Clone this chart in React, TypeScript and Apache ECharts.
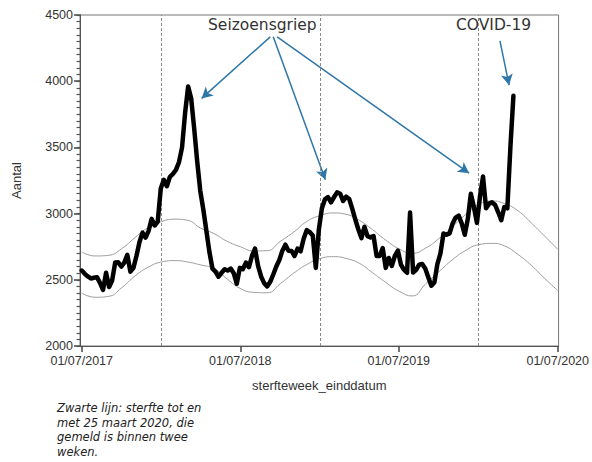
import React, { useEffect, useRef } from "react";
import * as echarts from "echarts";

// Weekly death counts (week end dates from 2017-07-01, one value per week)
const firstWeekEnd = [2017, 6, 1];
const weeklyDeaths = [
  2570, 2545, 2525, 2510, 2515, 2520, 2477, 2424, 2553, 2445,
  2495, 2630, 2632, 2600, 2630, 2689, 2561, 2590, 2680, 2785,
  2856, 2818, 2870, 2960, 2910, 2940, 3190, 3255, 3207, 3278,
  3300, 3330, 3390, 3500, 3760, 3960, 3870, 3640, 3390, 3170,
  3030, 2870, 2710, 2585, 2562, 2523, 2553, 2580, 2570, 2585,
  2550, 2470, 2590, 2580, 2630, 2595, 2680, 2735, 2605, 2525,
  2475, 2450, 2485, 2540, 2600, 2650, 2720, 2765, 2720, 2718,
  2680, 2735, 2715, 2810, 2875, 2860, 2835, 2590, 2880, 3040,
  3108, 3125, 3085, 3125, 3160, 3150, 3095, 3128, 3110, 3035,
  2955, 2880, 2815, 2900, 2830, 2820, 2830, 2680, 2680, 2740,
  2590, 2665, 2605, 2680, 2720, 2615, 2576, 2553, 3008, 2555,
  2575, 2615, 2620, 2585, 2520, 2455, 2480, 2620, 2700, 2850,
  2840, 2850, 2925, 2970, 2985, 2925, 2840, 2960, 3150, 3050,
  2930, 3130, 3280, 3040, 3075, 3085, 3065, 3010, 2950, 3050,
  3040, 3500, 3890,
];

// Expected-mortality band (monthly readings)
const bandDates = [
  "2017-07-01", "2017-08-01", "2017-09-01", "2017-10-01", "2017-11-01", "2017-12-01",
  "2018-01-01", "2018-02-01", "2018-03-01", "2018-04-01", "2018-05-01", "2018-06-01",
  "2018-07-01", "2018-08-01", "2018-09-01", "2018-10-01", "2018-11-01", "2018-12-01",
  "2019-01-01", "2019-02-01", "2019-03-01", "2019-04-01", "2019-05-01", "2019-06-01",
  "2019-07-01", "2019-08-01", "2019-09-01", "2019-10-01", "2019-11-01", "2019-12-01",
  "2020-01-01", "2020-02-01", "2020-03-01", "2020-04-01", "2020-05-01", "2020-06-01",
  "2020-07-01",
];
const upperBand = [
  2710, 2680, 2685, 2735, 2820, 2895,
  2940, 2958, 2950, 2890, 2850, 2790,
  2750, 2718, 2720, 2790, 2860, 2940,
  2985, 3005, 2995, 2950, 2880, 2800,
  2735, 2700, 2740, 2810, 2900, 2990,
  3070, 3095, 3075, 3020, 2930, 2830,
  2730,
];
const lowerBand = [
  2400, 2368, 2375, 2440, 2530, 2595,
  2635, 2645, 2635, 2612, 2585, 2505,
  2435, 2405, 2402, 2470, 2550, 2615,
  2660, 2675, 2662, 2625, 2555, 2480,
  2415, 2378, 2470, 2560, 2650, 2720,
  2765, 2775, 2755, 2690, 2610, 2510,
  2420,
];

const xTickDates = ["2017-07-01", "2018-07-01", "2019-07-01", "2020-07-01"];
const xRange = ["2017-06-27", "2020-07-03"];
const yTicks = [2000, 2500, 3000, 3500, 4000, 4500];
const yMinorStep = 50;
const seasonStarts = ["2018-01-01", "2019-01-01", "2020-01-01"];

// Annotation arrows: [from date, from value, to date, to value]
const fluArrows: [string, number, string, number][] = [
  ["2018-09-08", 4335, "2018-04-03", 3870],
  ["2018-09-15", 4335, "2019-01-13", 3255],
  ["2018-09-24", 4335, "2019-12-10", 3305],
];
const covidArrows: [string, number, string, number][] = [
  ["2020-02-19", 4305, "2020-03-11", 3970],
];

const ts = (s: string) => {
  const [y, m, d] = s.split("-").map(Number);
  return Date.UTC(y, m - 1, d);
};
const pad = (n: number) => (n < 10 ? "0" + n : "" + n);

export default function App() {
  const ref = useRef<HTMLDivElement>(null);

  useEffect(() => {
    if (!ref.current) return;
    const chart = echarts.init(ref.current, null, { renderer: "svg" });

    const start = Date.UTC(firstWeekEnd[0], firstWeekEnd[1], firstWeekEnd[2]);
    const deathData = weeklyDeaths.map((v, i) => [start + i * 7 * 86400000, v]);
    const upperData = bandDates.map((d, i) => [ts(d), upperBand[i]]);
    const lowerData = bandDates.map((d, i) => [ts(d), lowerBand[i]]);
    const tickTs = xTickDates.map(ts);

    const arrowLines = (arr: [string, number, string, number][]) =>
      arr.map(([d1, v1, d2, v2]) => [
        { coord: [ts(d1), v1] },
        { coord: [ts(d2), v2] },
      ]);

    const axisFont = "'Liberation Sans', Arial, sans-serif";
    const yMin = yTicks[0];
    const yMax = yTicks[yTicks.length - 1];

    chart.setOption({
      animation: false,
      backgroundColor: "#fff",
      grid: {
        left: 80,
        right: 29,
        top: 15,
        bottom: 116,
        show: true,
        borderColor: "#777",
        borderWidth: 1,
        backgroundColor: "transparent",
      },
      xAxis: {
        type: "value",
        min: ts(xRange[0]),
        max: ts(xRange[1]),
        scale: true,
        name: "sterfteweek_einddatum",
        nameLocation: "middle",
        nameGap: 33,
        nameTextStyle: { fontSize: 13, color: "#333", fontFamily: axisFont },
        axisLine: { show: true, lineStyle: { color: "#555", width: 1 } },
        axisTick: {
          show: true,
          inside: false,
          length: 6,
          customValues: tickTs,
          lineStyle: { color: "#444", width: 1.5 },
        },
        axisLabel: {
          customValues: tickTs,
          fontSize: 12.5,
          color: "#333",
          fontFamily: axisFont,
          margin: 8,
          hideOverlap: false,
          showMinLabel: true,
          showMaxLabel: true,
          formatter: (v: number) => {
            const d = new Date(v);
            return pad(d.getUTCDate()) + "/" + pad(d.getUTCMonth() + 1) + "/" + d.getUTCFullYear();
          },
        },
        splitLine: { show: false },
      },
      yAxis: [
        {
          type: "value",
          min: yMin,
          max: yMax,
          interval: yTicks[1] - yTicks[0],
          name: "Aantal",
          nameLocation: "middle",
          nameGap: 57,
          nameRotate: 90,
          nameTextStyle: { fontSize: 13, color: "#333", fontFamily: axisFont },
          axisLine: { show: true, lineStyle: { color: "#555", width: 1 } },
          axisTick: { show: true, inside: false, length: 6, lineStyle: { color: "#444", width: 1.5 } },
          axisLabel: {
            fontSize: 12.5,
            color: "#333",
            fontFamily: axisFont,
            margin: 7,
            formatter: (v: number) => String(v),
          },
          splitLine: { show: false },
        },
        {
          type: "value",
          position: "left",
          offset: 0,
          min: yMin,
          max: yMax,
          interval: yMinorStep,
          axisLine: { show: true, lineStyle: { color: "#555", width: 1 } },
          axisTick: { show: true, inside: false, length: 3.5, lineStyle: { color: "#555", width: 1.2 } },
          axisLabel: { show: false },
          splitLine: { show: false },
        },
      ],
      series: [
        {
          name: "Bovengrens",
          type: "line",
          data: upperData,
          smooth: true,
          showSymbol: false,
          silent: true,
          lineStyle: { color: "#9c9c9c", width: 1 },
          z: 2,
          markLine: {
            silent: true,
            symbol: ["none", "arrow"],
            symbolSize: [9, 11],
            label: { show: false },
            lineStyle: { color: "#2e77a8", width: 1.5, type: "solid" },
            data: [...arrowLines(fluArrows), ...arrowLines(covidArrows)],
          },
        },
        {
          name: "Ondergrens",
          type: "line",
          data: lowerData,
          smooth: true,
          showSymbol: false,
          silent: true,
          lineStyle: { color: "#9c9c9c", width: 1 },
          z: 2,
          markLine: {
            silent: true,
            symbol: ["none", "none"],
            label: { show: false },
            lineStyle: { color: "#8a8a8a", width: 1, type: [3, 2] },
            data: seasonStarts.map((d) => ({ xAxis: ts(d) })),
          },
        },
        {
          name: "Sterfte",
          type: "line",
          data: deathData,
          showSymbol: false,
          silent: true,
          lineStyle: { color: "#000", width: 4.5, join: "round", cap: "round" },
          z: 5,
        },
      ],
      graphic: [
        {
          type: "text",
          left: 208,
          top: 17,
          silent: true,
          style: {
            text: "Seizoensgriep",
            fontSize: 15.5,
            fontFamily: "'DejaVu Sans', Verdana, sans-serif",
            fill: "#333",
          },
        },
        {
          type: "text",
          left: 456,
          top: 17,
          silent: true,
          style: {
            text: "COVID-19",
            fontSize: 15.5,
            fontFamily: "'DejaVu Sans', Verdana, sans-serif",
            fill: "#333",
          },
        },
        {
          type: "text",
          left: 57,
          top: 401,
          silent: true,
          style: {
            text: "Zwarte lijn: sterfte tot en\nmet 25 maart 2020, die\ngemeld is binnen twee\nweken.",
            fontSize: 11.5,
            lineHeight: 14.5,
            fontStyle: "italic",
            fontFamily: "'DejaVu Sans', Verdana, sans-serif",
            fill: "#222",
          },
        },
      ],
    });

    return () => chart.dispose();
  }, []);

  return (
    <div
      ref={ref}
      style={{ position: "absolute", left: 0, top: 0, width: 592, height: 462, background: "#fff" }}
    />
  );
}
